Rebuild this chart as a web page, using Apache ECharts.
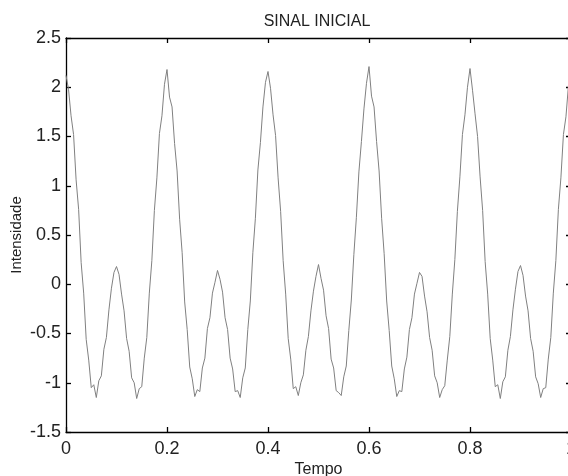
<!DOCTYPE html>
<html>
<head>
<meta charset="utf-8">
<script src="https://cdn.jsdelivr.net/npm/echarts@6/dist/echarts.min.js"></script>
<style>
html,body{margin:0;padding:0;background:#fff;}
#chart{width:568px;height:476px;}
</style>
</head>
<body>
<div id="chart"></div>
<script>
const chartTitle = "SINAL INICIAL";
const xAxisTitle = "Tempo";
const yAxisTitle = "Intensidade";
const xTickValues = [0, 0.2, 0.4, 0.6, 0.8, 1];
const yTickValues = [-1.5, -1, -0.5, 0, 0.5, 1, 1.5, 2, 2.5];
const sampleStep = 0.005; // time between samples (s)
const signalValues = [
  2.12, 1.98, 1.71, 1.52, 1.06, 0.76, 0.22, -0.09, -0.56, -0.77, -1.05, -1.02, -1.15, -0.98, -0.93, -0.66, -0.54, -0.26, -0.04, 0.12,
  0.18, 0.10, -0.10, -0.27, -0.55, -0.68, -0.95, -1.00, -1.16, -1.06, -1.04, -0.75, -0.54, -0.09, 0.24, 0.75, 1.08, 1.53, 1.71, 2.03,
  2.18, 1.90, 1.80, 1.43, 1.15, 0.66, 0.32, -0.18, -0.46, -0.84, -0.96, -1.14, -1.07, -1.09, -0.85, -0.75, -0.45, -0.34, -0.09, 0.02,
  0.14, 0.05, -0.08, -0.34, -0.46, -0.75, -0.86, -1.09, -1.08, -1.15, -0.95, -0.85, -0.46, -0.17, 0.32, 0.67, 1.16, 1.44, 1.80, 2.05,
  2.16, 1.99, 1.72, 1.51, 1.08, 0.74, 0.24, -0.10, -0.55, -0.76, -1.06, -1.04, -1.13, -1.00, -0.92, -0.67, -0.53, -0.27, -0.07, 0.08,
  0.20, 0.06, -0.06, -0.32, -0.45, -0.76, -0.85, -1.08, -1.10, -1.13, -0.94, -0.83, -0.47, -0.16, 0.30, 0.68, 1.14, 1.45, 1.78, 2.04,
  2.21, 1.91, 1.80, 1.45, 1.15, 0.67, 0.31, -0.17, -0.47, -0.83, -0.96, -1.14, -1.08, -1.09, -0.86, -0.74, -0.46, -0.34, -0.10, 0.01,
  0.12, 0.08, -0.12, -0.28, -0.54, -0.67, -0.93, -1.00, -1.15, -1.07, -1.03, -0.77, -0.53, -0.10, 0.25, 0.74, 1.09, 1.52, 1.72, 2.00,
  2.19, 1.97, 1.73, 1.50, 1.09, 0.75, 0.23, -0.10, -0.55, -0.77, -1.04, -1.02, -1.16, -0.99, -0.94, -0.67, -0.53, -0.26, -0.05, 0.13,
  0.19, 0.09, -0.12, -0.27, -0.55, -0.68, -0.94, -1.01, -1.15, -1.06, -1.05, -0.76, -0.54, -0.09, 0.24, 0.76, 1.08, 1.52, 1.70, 2.02,
  2.17
];

const seriesData = signalValues.map((v, i) => [+(i * sampleStep).toFixed(4), v]);

const FONT = "'Liberation Sans', Arial, sans-serif";
const TXT = '#222';
const axisLine = { show: true, onZero: false, lineStyle: { color: '#000', width: 1.3 } };
const tick = { show: true, inside: true, length: 5, lineStyle: { color: '#000', width: 1.3 } };

const chart = echarts.init(document.getElementById('chart'), null, { renderer: 'canvas' });
chart.setOption({
  animation: false,
  backgroundColor: '#fff',
  title: {
    text: chartTitle,
    left: 312, top: 9, textAlign: 'center',
    textStyle: { fontFamily: FONT, fontSize: 16, fontWeight: 'normal', color: TXT }
  },
  grid: { left: 66, top: 38, width: 505, height: 394, containLabel: false, outerBoundsMode: 'none' },
  xAxis: [
    {
      type: 'value', min: 0, max: 1, interval: 0.2, position: 'bottom',
      axisLine: axisLine, axisTick: tick, splitLine: { show: false },
      axisLabel: { margin: 8, fontFamily: FONT, fontSize: 18, color: TXT,
        formatter: v => xTickValues.includes(+v.toFixed(1)) ? String(+v.toFixed(1)) : '' },
      name: xAxisTitle, nameLocation: 'middle', nameGap: 30, nameMoveOverlap: false,
      nameTextStyle: { fontFamily: FONT, fontSize: 16, color: TXT }
    },
    {
      type: 'value', min: 0, max: 1, interval: 0.2, position: 'top',
      axisLine: axisLine, axisTick: tick, splitLine: { show: false },
      axisLabel: { show: false }
    }
  ],
  yAxis: [
    {
      type: 'value', min: -1.5, max: 2.5, interval: 0.5, position: 'left',
      axisLine: axisLine, axisTick: tick, splitLine: { show: false },
      axisLabel: { margin: 5, fontFamily: FONT, fontSize: 18, color: TXT,
        formatter: v => yTickValues.includes(v) ? String(v) : '' },
      name: yAxisTitle, nameLocation: 'middle', nameGap: 42, nameRotate: 90, nameMoveOverlap: false,
      nameTextStyle: { fontFamily: FONT, fontSize: 15, color: TXT }
    },
    {
      type: 'value', min: -1.5, max: 2.5, interval: 0.5, position: 'right',
      axisLine: axisLine, axisTick: tick, splitLine: { show: false },
      axisLabel: { show: false }
    }
  ],
  series: [{
    type: 'line', xAxisIndex: 0, yAxisIndex: 0,
    data: seriesData, showSymbol: false, smooth: false,
    lineStyle: { color: '#808080', width: 1 }
  }]
});
</script>
</body>
</html>
